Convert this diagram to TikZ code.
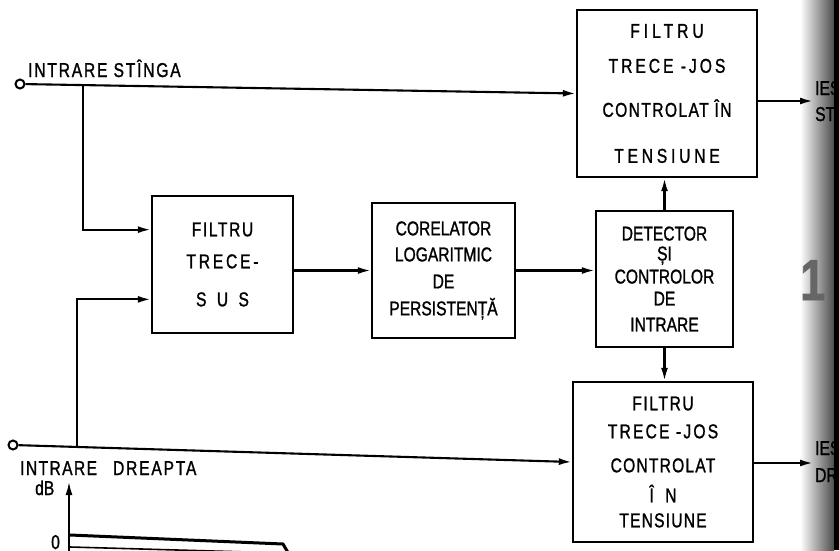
\documentclass[tikz,border=0pt]{standalone}
\usepackage{fontspec}
\setmainfont{Liberation Sans}[FakeStretch=0.78,FakeBold=1.2]
\usetikzlibrary{arrows.meta,positioning,calc}
\newcommand{\wide}[2]{{\addfontfeature{LetterSpace=#1}#2}}
\tikzset{
    blk/.style={
        draw=black,line width=2.4pt,align=center,inner sep=0pt
    },
    arrow/.style={
        -{Latex[length=13pt,width=7pt]},line width=2.1pt
    },
    term/.style={
        draw=black,line width=2pt,circle,fill=white,
        inner sep=0pt,minimum size=9pt
    },
    lbl/.style={anchor=base west,inner sep=0pt}
}

\begin{document}
\begin{tikzpicture}[x=1pt,y=-1pt,font=\fontsize{20}{24}\selectfont]

\useasboundingbox (0,0) rectangle (839,550);
\clip (0,0) rectangle (839,550);
\shade[left color=white,right color=black!70] (800,0) rectangle (834,550);
\fill[black] (834,0) rectangle (839,550);

\node[
blk,minimum width=180pt,minimum height=167pt
]
(lpt) at (667,93.5)
{
\wide{20}{FILTRU}\\[11pt]
\wide{15}{TRECE -JOS}\\[20pt]
\wide{7}{CONTROLAT ÎN}\\[22pt]
\wide{19}{TENSIUNE}
};

\node[
blk,minimum width=141pt,minimum height=137pt
]
(hpf) at (222.5,264.5)
{
\wide{8}{FILTRU}\\[8pt]
\wide{14}{TRECE-}\\[14pt]
\wide{52}{SUS}
};

\node[
blk,minimum width=143pt,minimum height=135pt
]
(cor) at (443.5,270.5)
{
CORELATOR\\[2pt]
LOGARITMIC\\[3pt]
DE\\[3pt]
PERSISTENȚĂ
};

\node[
blk,minimum width=137pt,minimum height=136pt
]
(det) at (664.5,279)
{
DETECTOR\\[-4pt]
ȘI\\[-1pt]
CONTROLOR\\[-2pt]
DE\\[2pt]
INTRARE
};

\node[
blk,minimum width=180pt,minimum height=160pt
]
(bpt) at (663,462)
{
\wide{8}{FILTRU}\\[4pt]
\wide{11}{TRECE -JOS}\\[10pt]
\wide{6}{CONTROLAT}\\[6pt]
\wide{57}{ÎN}\\[1pt]
\wide{6}{TENSIUNE}
};

\node[term] (inl) at (20,84) {};
\node[term] (inr) at (13,445) {};
\node[lbl] (linl) at (28,77) {\wide{9}{INTRARE STÎNGA}};
\node[lbl] (linr) at (20,475) {\wide{7}{INTRARE}\hspace{16pt}\wide{9}{DREAPTA}};

\coordinate (outl) at (813,101);
\coordinate (outr) at (813,463);
\node[lbl] (loutl) at (815,95) {IEȘIRE};
\node[lbl] (loutl2) at (815,121) {STÎNGA};
\node[lbl] (loutr) at (815,455) {IEȘIRE};
\node[lbl] (loutr2) at (815,482) {DREAPTA};

\coordinate (h1) at ($(hpf.north west)!.25!(hpf.south west)$);
\coordinate (h2) at ($(hpf.north west)!.75!(hpf.south west)$);

\draw[arrow] (inl) -- (lpt.west) coordinate[pos=0.104] (bl);
\draw[arrow] (inr) -- (bpt.west) coordinate[pos=0.105] (br);
\draw[arrow] (bl) |- (h1);
\draw[arrow] (br) |- (h2);
\draw[arrow] (cor.west -| hpf.east) -- (cor.west);
\draw[arrow] (cor.east) -- (cor.east -| det.west);
\draw[arrow] (det.north) -- (det.north |- lpt.south);
\draw[arrow] (det.south) -- (det.south |- bpt.north);
\draw[arrow] (lpt.east |- outl) -- (outl);
\draw[arrow] (bpt.east |- outr) -- (outr);

\node[lbl,text=black!60,font=\fontsize{58}{58}\selectfont\bfseries] (pg) at (800,300) {1};

\coordinate (ax0) at (69,556);
\coordinate (ax1) at (69,482);
\draw[arrow,line width=1.6pt] (ax0) -- (ax1);
\node[lbl] (ldb) at (35,495) {dB};
\node[lbl] (lzero) at (51,549) {0};
\draw[line width=3pt] (70,535) -- (283,544) -- (290,556);
\draw[line width=1.6pt] (70,547) -- (284,553);

\end{tikzpicture}
\end{document}
